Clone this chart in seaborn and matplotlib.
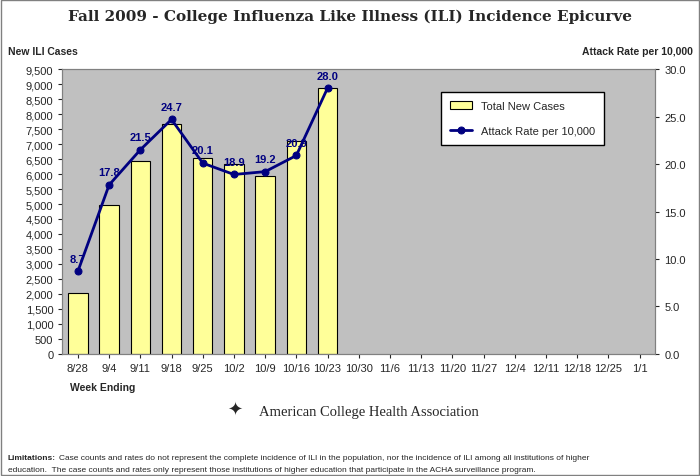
import matplotlib
matplotlib.use("Agg")
import matplotlib.pyplot as plt
import seaborn as sns
import pandas as pd
from matplotlib.patches import Rectangle

weeks = ['8/28', '9/4', '9/11', '9/18', '9/25', '10/2', '10/9', '10/16', '10/23', '10/30',
         '11/6', '11/13', '11/20', '11/27', '12/4', '12/11', '12/18', '12/25', '1/1']
new_cases = [2030, 4980, 6430, 7680, 6520, 6320, 5950, 7100, 8870]
attack_rate = [8.7, 17.8, 21.5, 24.7, 20.1, 18.9, 19.2, 20.9, 28.0]

sns.set_style("white")
plt.rcParams['font.family'] = ['Liberation Sans', 'DejaVu Sans']

df = pd.DataFrame({'Week': weeks[:len(new_cases)], 'Cases': new_cases, 'Rate': attack_rate})
df['pos'] = range(len(df))

fig = plt.figure(figsize=(7, 4.77), dpi=100)
ax = fig.add_axes([0.089, 0.256, 0.847, 0.597])
ax.set_facecolor('#c0c0c0')

sns.barplot(data=df, x='pos', y='Cases', color='#ffff99', edgecolor='black', linewidth=0.8,
            width=0.62, ax=ax, label='Total New Cases', saturation=1, native_scale=True)
ax.set_xlim(-0.5, len(weeks) - 0.5)
ax.set_ylim(0, 9500)
ax.set_yticks(range(0, 9501, 500))
ax.set_yticklabels([f"{v:,}" for v in range(0, 9501, 500)], fontsize=8)
ax.set_xticks(range(len(weeks)))
ax.set_xticklabels(weeks, fontsize=8)
ax.set_xlabel('')
ax.set_ylabel('')
ax.tick_params(length=3, direction='out', left=True, bottom=True)

ax2 = ax.twinx()
sns.lineplot(data=df, x='pos', y='Rate', color='#000080', marker='o', markersize=5,
             markeredgecolor='#000080', linewidth=2, ax=ax2, label='Attack Rate per 10,000')
ax2.set_ylim(0, 30)
ax2.set_yticks([0, 5, 10, 15, 20, 25, 30])
ax2.set_yticklabels([f"{v:.1f}" for v in [0, 5, 10, 15, 20, 25, 30]], fontsize=8)
ax2.set_ylabel('')
ax2.set_xlabel('')
ax2.tick_params(length=3, direction='out', right=True)
for x, r in zip(df['pos'], df['Rate']):
    ax2.text(x, r + 0.8, f"{r:.1f}", ha='center', va='bottom', fontsize=8,
             color='#000080', fontweight='bold')
for a in (ax, ax2):
    for s in a.spines.values():
        s.set_color('#808080')

h1, l1 = ax.get_legend_handles_labels()
h2, l2 = ax2.get_legend_handles_labels()
ax2.legend(h1 + h2, l1 + l2, loc='upper left', bbox_to_anchor=(0.63, 0.94), fontsize=8,
           frameon=True, fancybox=False, edgecolor='black', facecolor='white', framealpha=1,
           borderpad=0.8, labelspacing=1.4)
if ax.get_legend():
    ax.get_legend().remove()

fig.text(0.5, 0.955, 'Fall 2009 - College Influenza Like Illness (ILI) Incidence Epicurve',
         ha='center', fontsize=11, fontweight='bold', family='DejaVu Serif')
fig.text(0.011, 0.885, 'New ILI Cases', fontsize=7.5, fontweight='bold')
fig.text(0.99, 0.885, 'Attack Rate per 10,000', fontsize=7.5, fontweight='bold', ha='right')
fig.text(0.1, 0.18, 'Week Ending', fontsize=7.5, fontweight='bold')
fig.text(0.325, 0.128, '\u2726', fontsize=13, family='DejaVu Sans')
fig.text(0.37, 0.128, 'American College Health Association', fontsize=10.5,
         family='Liberation Serif')
fig.text(0.011, 0.035, "Limitations:", fontsize=6, fontweight='bold')
fig.text(0.084, 0.035, "Case counts and rates do not represent the complete incidence of ILI in the population, nor the incidence of ILI among all institutions of higher",
         fontsize=6)
fig.text(0.011, 0.01, "education.  The case counts and rates only represent those institutions of higher education that participate in the ACHA surveillance program.",
         fontsize=6)
fig.add_artist(Rectangle((0.002, 0.002), 0.996, 0.996, transform=fig.transFigure,
                         fill=False, edgecolor='#808080', linewidth=1))

fig.savefig('out.png', dpi=100)
